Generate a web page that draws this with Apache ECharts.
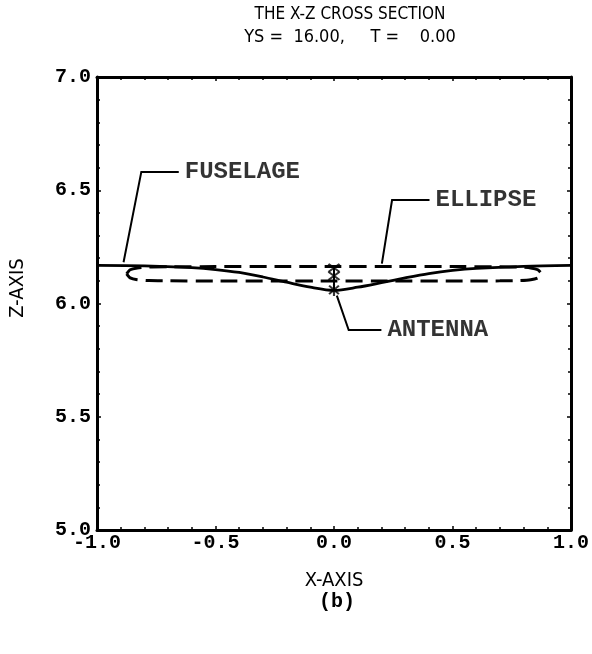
<!DOCTYPE html>
<html>
<head>
<meta charset="utf-8">
<script src="https://cdn.jsdelivr.net/npm/echarts@6/dist/echarts.min.js"></script>
<style>
html,body{margin:0;padding:0;background:#fff;}
#chart{width:592px;height:654px;}
</style>
</head>
<body>
<div id="chart"></div>
<script>
// ---- data ----
const titleLine1 = 'THE X-Z CROSS SECTION';
const titleLine2 = 'YS =  16.00,     T =    0.00';
const xAxisName = 'X-AXIS';
const yAxisName = 'Z-AXIS';
const caption = '(b)';

const fuselageX = [-1.0, -0.8, -0.6, -0.5, -0.4, -0.3, -0.2, -0.1, 0.0, 0.1, 0.2, 0.3, 0.4, 0.5, 0.6, 0.8, 1.0];
const fuselageZ = [6.168, 6.166, 6.158, 6.150, 6.137, 6.117, 6.094, 6.072, 6.058, 6.072, 6.092, 6.113, 6.132, 6.146, 6.155, 6.164, 6.168];

const ellipseX = [-0.875, -0.86, -0.83, -0.78, -0.7, -0.5, -0.25, 0.0, 0.25, 0.5, 0.7, 0.78, 0.83, 0.86, 0.875,
                  0.86, 0.83, 0.78, 0.7, 0.5, 0.25, 0.0, -0.25, -0.5, -0.7, -0.78, -0.83, -0.86, -0.875];
const ellipseZ = [6.131, 6.149, 6.157, 6.161, 6.162, 6.163, 6.163, 6.163, 6.163, 6.163, 6.162, 6.161, 6.157, 6.149, 6.131,
                  6.113, 6.105, 6.101, 6.100, 6.099, 6.099, 6.099, 6.099, 6.099, 6.100, 6.101, 6.105, 6.113, 6.131];

const antennaX = [0.0, 0.0];
const antennaZ = [6.168, 6.058];
const crossX = [0.0, 0.0];
const crossZ = [6.157, 6.122];
const starX = [0.0];
const starZ = [6.060];

const labelNames = ['FUSELAGE', 'ELLIPSE', 'ANTENNA'];
const leaderX = [[-0.655, -0.813, -0.888], [0.403, 0.245, 0.202], [0.200, 0.062, 0.012]];
const leaderZ = [[6.581, 6.581, 6.182], [6.457, 6.457, 6.176], [5.883, 5.883, 6.035]];

const xMin = -1.0, xMax = 1.0, xStep = 0.5;
const zMin = 5.0, zMax = 7.0, zStep = 0.5;

// ---- build ----
const pairs = (xs, ys) => xs.map((x, i) => [x, ys[i]]);
const monoFont = '"Liberation Mono", "DejaVu Sans Mono", monospace';
const narrowFont = '"Liberation Sans Narrow", "DejaVu Sans Condensed", "Liberation Sans", sans-serif';

const axisCommon = {
  type: 'value',
  axisLine: { show: true, onZero: false, lineStyle: { color: '#000', width: 3 } },
  axisTick: { show: true, inside: true, length: 4, lineStyle: { color: '#000', width: 1.5 } },
  minorTick: { show: true, splitNumber: 5, length: 3, lineStyle: { color: '#000', width: 1.5 } },
  splitLine: { show: false },
  minorSplitLine: { show: false }
};

const chart = echarts.init(document.getElementById('chart'), null, { renderer: 'canvas' });

const option = {
  animation: false,
  backgroundColor: '#fff',
  grid: { left: 97, top: 77, width: 481, height: 453, containLabel: false },
  graphic: [
    { type: 'text', x: 350, y: 6, style: { text: titleLine1, font: '17px ' + narrowFont, fill: '#000', textAlign: 'center' } },
    { type: 'text', x: 350, y: 28, style: { text: titleLine2, font: '18px ' + narrowFont, fill: '#000', textAlign: 'center' } },
    { type: 'text', x: 337, y: 592, style: { text: caption, font: 'bold 20px ' + monoFont, fill: '#000', textAlign: 'center' } },
    { type: 'text', x: 18, y: 288, rotation: Math.PI / 2,
      style: { text: yAxisName, font: '20px ' + narrowFont, fill: '#000', textAlign: 'center', textVerticalAlign: 'middle' } }
  ],
  xAxis: [
    Object.assign({}, axisCommon, {
      min: xMin, max: xMax, interval: xStep, position: 'bottom',
      axisLabel: { show: true, margin: 3, color: '#000', fontSize: 20, fontWeight: 'bold', fontFamily: monoFont,
        formatter: v => v.toFixed(1) },
      name: xAxisName, nameLocation: 'middle', nameGap: 41,
      nameTextStyle: { color: '#000', fontSize: 20, fontFamily: narrowFont }
    }),
    Object.assign({}, axisCommon, {
      min: xMin, max: xMax, interval: xStep, position: 'top',
      axisLabel: { show: false }
    })
  ],
  yAxis: [
    Object.assign({}, axisCommon, {
      min: zMin, max: zMax, interval: zStep, position: 'left',
      axisLabel: { show: true, margin: 6, color: '#000', fontSize: 20, fontWeight: 'bold', fontFamily: monoFont,
        formatter: v => v.toFixed(1) }
    }),
    Object.assign({}, axisCommon, {
      min: zMin, max: zMax, interval: zStep, position: 'right',
      axisLabel: { show: false }
    })
  ],
  series: [
    {
      name: 'fuselage', type: 'line', data: pairs(fuselageX, fuselageZ), smooth: 0.3,
      showSymbol: false, lineStyle: { color: '#000', width: 2.8 }, silent: true
    },
    {
      name: 'ellipse', type: 'line', data: pairs(ellipseX, ellipseZ), smooth: 0.2,
      showSymbol: false, lineStyle: { color: '#000', width: 3, type: [17, 8] }, silent: true
    },
    {
      name: 'antenna', type: 'line', data: pairs(antennaX, antennaZ),
      showSymbol: false, lineStyle: { color: '#000', width: 2 }, silent: true
    },
    {
      name: 'cross', type: 'scatter', data: pairs(crossX, crossZ),
      symbol: 'path://M0,0L10,10M10,0L0,10', symbolSize: [11, 8],
      itemStyle: { color: 'none', borderColor: '#000', borderWidth: 2 }, silent: true
    },
    {
      name: 'star', type: 'scatter', data: pairs(starX, starZ),
      symbol: 'path://M5,0L5,10M0,5L10,5M1.5,1.5L8.5,8.5M8.5,1.5L1.5,8.5', symbolSize: [14, 12],
      itemStyle: { color: 'none', borderColor: '#000', borderWidth: 2 }, silent: true
    },
    {
      name: 'leaders', type: 'lines', coordinateSystem: 'cartesian2d', polyline: true,
      symbol: ['none', 'arrow'], symbolSize: [6, 14],
      lineStyle: { color: '#000', width: 2, opacity: 1 },
      data: leaderX.map((xs, i) => ({ coords: pairs(xs, leaderZ[i]) })), silent: true
    },
    {
      name: 'labels', type: 'scatter', symbolSize: 0,
      data: labelNames.map((n, i) => ({ name: n, value: [leaderX[i][0], leaderZ[i][0]] })),
      label: { show: true, position: 'right', distance: 6, formatter: p => p.name, color: '#000',
        fontSize: 24, fontWeight: 'bold', fontFamily: monoFont },
      silent: true
    }
  ]
};
chart.setOption(option);
</script>
</body>
</html>
